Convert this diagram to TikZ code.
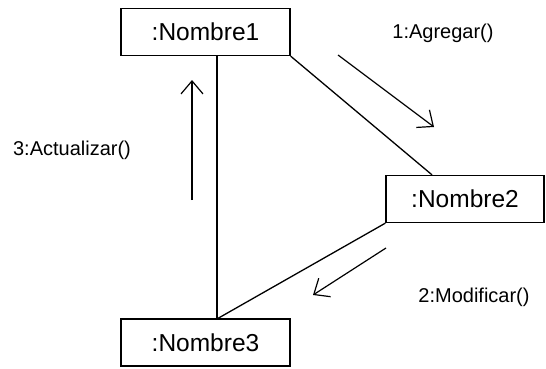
\documentclass[tikz,border=0pt]{standalone}
\usepackage{fontspec}
\setmainfont{Liberation Sans}
\usetikzlibrary{arrows.meta}
\begin{document}
\begin{tikzpicture}[x=1pt,y=-1pt,
  obj/.style={draw,line width=1.3pt,minimum height=47pt,inner sep=0pt,
    font=\fontsize{24.5}{28}\selectfont},
  link/.style={line width=1.3pt},
  msg/.style={line width=1.2pt,-{Straight Barb[length=13pt,width=22pt,line width=1.2pt]}},
  lbl/.style={font=\fontsize{20}{24}\selectfont,inner sep=0pt}]
\useasboundingbox (0,0) rectangle (546,369);
% objects
\node[obj,minimum width=169pt] (n1) at (205.5,32) {:Nombre1};
\node[obj,minimum width=158pt] (n2) at (465,199) {:Nombre2};
\node[obj,minimum width=169pt] (n3) at (205.5,342.5) {:Nombre3};
% links
\draw[link] ([xshift=11.5pt]n1.south) -- ([xshift=11.5pt]n3.north);
\draw[link] (n1.south east) -- ([xshift=-33pt]n2.north);
\draw[link] (n2.south west) -- ([xshift=12.5pt]n3.north);
% messages
\coordinate (a1s) at (338,55);  \coordinate (a1e) at (434,127);
\coordinate (a2s) at (386,248); \coordinate (a2e) at (313,295);
\coordinate (a3s) at (192,200); \coordinate (a3e) at (192,80);
\draw[msg] (a1s) -- (a1e);
\draw[msg] (a2s) -- (a2e);
\draw[msg] (a3s) -- (a3e);
\node[lbl] (l1) at (443,33) {1:Agregar()};
\node[lbl] (l2) at (474,297) {2:Modificar()};
\node[lbl] (l3) at (72,150) {3:Actualizar()};
\end{tikzpicture}
\end{document}
